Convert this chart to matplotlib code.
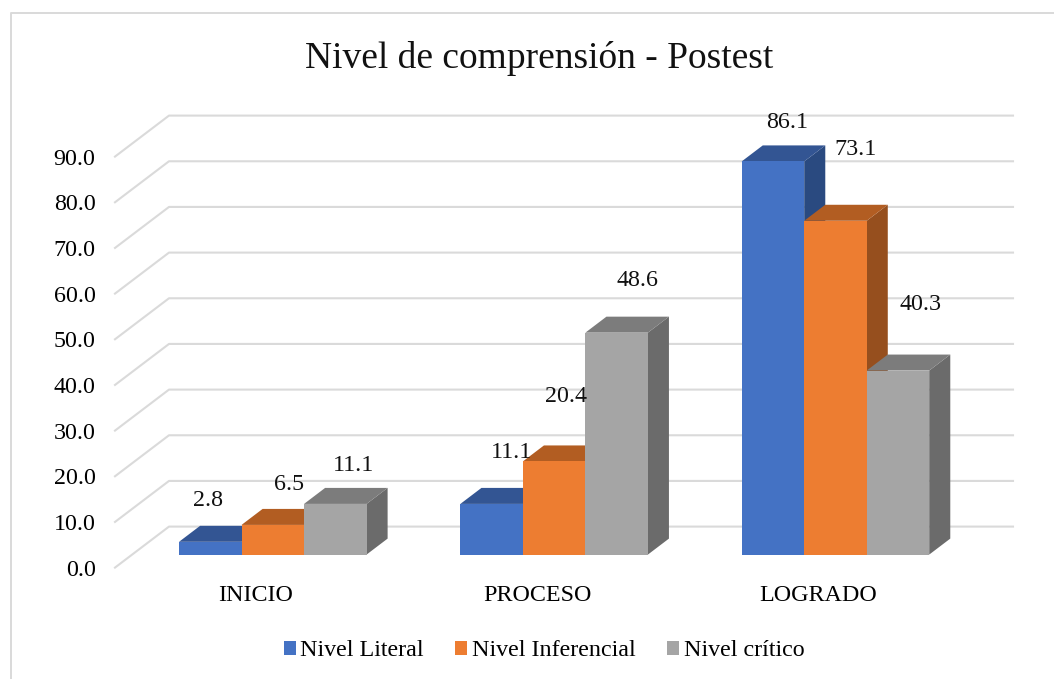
import matplotlib
matplotlib.use("Agg")
import matplotlib.pyplot as plt
from matplotlib.lines import Line2D
from matplotlib.patches import Polygon, Patch

categories = ["INICIO", "PROCESO", "LOGRADO"]
series_names = ["Nivel Literal", "Nivel Inferencial", "Nivel crítico"]
literal = [2.8, 11.1, 86.1]
inferencial = [6.5, 20.4, 73.1]
critico = [11.1, 48.6, 40.3]
y_ticks = [0, 10, 20, 30, 40, 50, 60, 70, 80, 90]

front_colors = ["#4472C4", "#ED7D31", "#A5A5A5"]
top_colors = ["#335593", "#B25D22", "#7C7C7C"]
side_colors = ["#2A4A80", "#964F1E", "#6B6B6B"]

plt.rcParams["font.family"] = ["Liberation Serif", "DejaVu Serif"]

W, H = 1054, 679
FS = 17.3
fig = plt.figure(figsize=(W / 100, H / 100), dpi=100)
# chart frame, only left and top show in the crop
fig.add_artist(Line2D([10.5 / W, 10.5 / W, 1], [0, (H - 12.5) / H, (H - 12.5) / H],
                      color="#D9D9D9", lw=1.4))

ax = fig.add_axes([115 / W, (H - 567.6) / H, 844 / W, 411 / H])
ax.set_xlim(-0.5, 2.5)
ax.set_ylim(0, 90)
ax.patch.set_alpha(0)
for s in ax.spines.values():
    s.set_visible(False)

# depth of the fake 3d box, in data units
depth_x = 54 / (844 / 3)
depth_y = 41 / (411 / 90)

for t in y_ticks:
    ax.plot([-0.5, -0.5 + depth_x, 2.5 + depth_x], [t, t + depth_y, t + depth_y],
            color="#DADADA", lw=1.5, clip_on=False, zorder=1)

ax.set_xticks(range(len(categories)))
ax.set_xticklabels(categories, fontsize=FS)
ax.set_yticks(y_ticks)
ax.set_yticklabels(["%.1f" % t for t in y_ticks], fontsize=FS)
ax.tick_params(axis="both", length=0)
ax.tick_params(axis="x", pad=12.5)
ax.tick_params(axis="y", pad=14)

bar_w = 62.5 / (844 / 3)
z0, z1 = 13 / 41, 29 / 41
values = [literal, inferencial, critico]

# label offsets from bar front top centre, pixels
label_dx = [[-2, 16, 18], [20, 12, 21], [14, 20, 23]]
label_dy = [[41, 40, 38], [51, 65, 52], [39, 71, 66]]

for c in range(len(categories)):
    for i in range(3):
        v = values[i][c]
        x0 = c + (i - 1.5) * bar_w + z0 * depth_x
        x1 = x0 + bar_w
        y0 = z0 * depth_y
        y1 = y0 + v
        ddx = (z1 - z0) * depth_x
        ddy = (z1 - z0) * depth_y
        ax.add_patch(Polygon([(x1, y0), (x1 + ddx, y0 + ddy), (x1 + ddx, y1 + ddy), (x1, y1)],
                             fc=side_colors[i], ec="none", clip_on=False, zorder=3))
        ax.add_patch(Polygon([(x0, y1), (x0 + ddx, y1 + ddy), (x1 + ddx, y1 + ddy), (x1, y1)],
                             fc=top_colors[i], ec="none", clip_on=False, zorder=3))
        ax.add_patch(Polygon([(x0, y0), (x1, y0), (x1, y1), (x0, y1)],
                             fc=front_colors[i], ec="none", clip_on=False, zorder=3))
        ax.annotate("%.1f" % v, xy=((x0 + x1) / 2, y1),
                    xytext=(label_dx[c][i] * 0.72, label_dy[c][i] * 0.72),
                    textcoords="offset points", ha="center", va="center",
                    fontsize=FS, color="#111111", zorder=5, annotation_clip=False)

handles = [Patch(fc=col, ec="none") for col in front_colors]
fig.legend(handles, series_names, ncol=3, loc="center", bbox_to_anchor=(544 / W, (H - 651) / H),
           frameon=False, fontsize=FS, handlelength=0.5, handleheight=0.5,
           handletextpad=0.2, columnspacing=1.3)

fig.text(539 / W, (H - 58) / H, "Nivel de comprensión - Postest", ha="center", va="center",
         fontsize=27, color="#111111")

fig.savefig("out.png", dpi=100)
